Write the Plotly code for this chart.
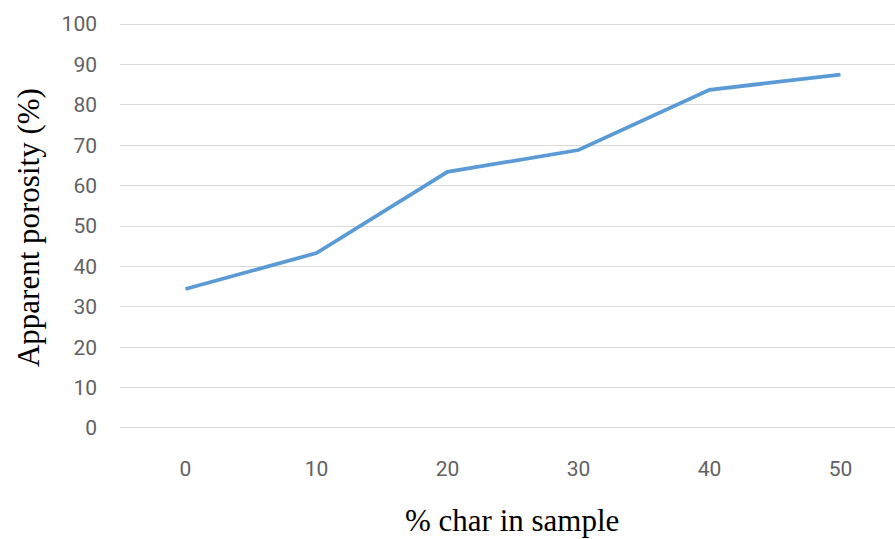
import plotly.graph_objects as go

char_pct = [0, 10, 20, 30, 40, 50]
porosity = [34.4, 43.3, 63.4, 68.8, 83.7, 87.5]
y_ticks = [0, 10, 20, 30, 40, 50, 60, 70, 80, 90, 100]

idx = list(range(len(char_pct)))

fig = go.Figure()
fig.add_trace(go.Scatter(
    x=idx, y=porosity, mode="lines",
    line=dict(color="#5B9BD5", width=3.75),
    hoverinfo="skip", showlegend=False,
))

tick_font = dict(family="Roboto", size=21, color="#626262")

fig.update_layout(
    width=895, height=539,
    margin=dict(l=120, r=0, t=20, b=107),
    paper_bgcolor="white", plot_bgcolor="white",
    xaxis=dict(
        range=[-0.5, 5.416],
        tickmode="array", tickvals=idx, ticktext=[str(c) for c in char_pct],
        showgrid=False, zeroline=False, showline=False,
        ticks="", tickfont=tick_font, ticklabelstandoff=22,
    ),
    yaxis=dict(
        range=[-1, 101],
        tickmode="array", tickvals=y_ticks, ticktext=[str(v) for v in y_ticks],
        showgrid=True, gridcolor="#D9D9D9", gridwidth=1.3,
        zeroline=False, showline=False,
        ticks="", tickfont=tick_font, ticklabelstandoff=22,
    ),
    annotations=[
        dict(text="% char in sample", xref="paper", yref="paper",
             x=0.506, y=-0.2136, xanchor="center", yanchor="middle",
             showarrow=False,
             font=dict(family="Liberation Serif", size=31, color="black")),
        dict(text="Apparent porosity (%)", xref="paper", yref="paper",
             x=-0.1187, y=0.495, xanchor="center", yanchor="middle",
             textangle=-90, showarrow=False,
             font=dict(family="Liberation Serif", size=31, color="black")),
    ],
)

fig.write_html("out.html",
               config={"displayModeBar": False},
               post_script="document.body.style.margin='0';document.body.style.overflow='hidden';")
